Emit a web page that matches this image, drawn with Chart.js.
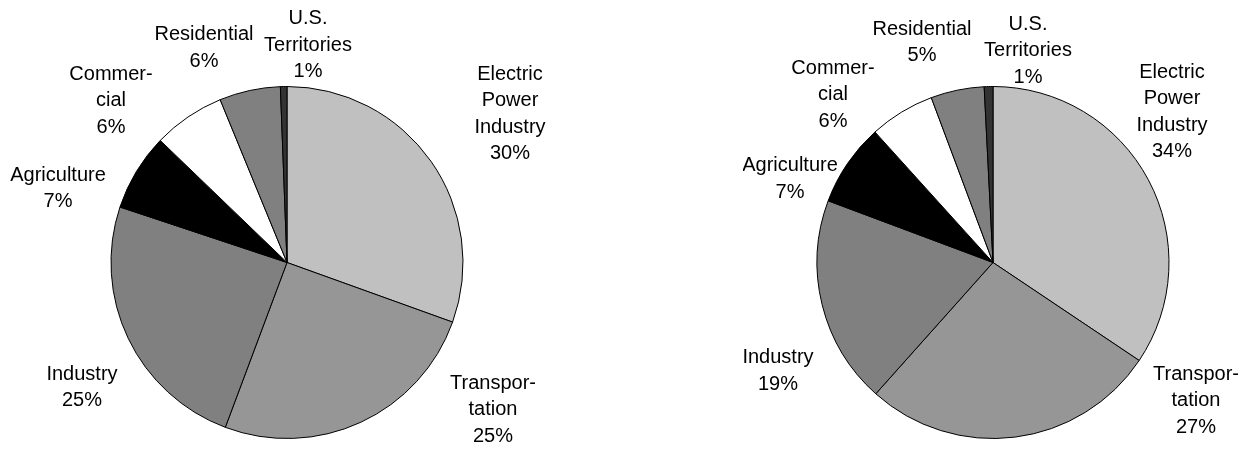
<!DOCTYPE html>
<html>
<head>
<meta charset="utf-8">
<script src="https://cdn.jsdelivr.net/npm/chart.js@4"></script>
<style>
  html, body { margin: 0; padding: 0; background: #fff; width: 1252px; height: 451px; overflow: hidden; }
  .box { position: absolute; top: 0; height: 451px; }
  #leftBox { left: 0; width: 574px; }
  #rightBox { left: 743px; width: 500px; }
</style>
</head>
<body>
<div class="box" id="leftBox"><canvas id="left"></canvas></div>
<div class="box" id="rightBox"><canvas id="right"></canvas></div>
<script>
// ---- data ----
const categories = ["Electric Power Industry", "Transportation", "Industry", "Agriculture", "Commercial", "Residential", "U.S. Territories"];
const categoryLines = [["Electric", "Power", "Industry"], ["Transpor-", "tation"], ["Industry"], ["Agriculture"], ["Commer-", "cial"], ["Residential"], ["U.S.", "Territories"]];
const leftValues = [30.5, 25.2, 24.4, 7.1, 6.6, 5.6, 0.6];
const rightValues = [34.4, 27.2, 19.1, 7.6, 6.0, 4.9, 0.8];
const leftPercentLabels = ["30%", "25%", "25%", "7%", "6%", "6%", "1%"];
const rightPercentLabels = ["34%", "27%", "19%", "7%", "6%", "5%", "1%"];

// ---- styling / layout ----
const sliceColors = ["#c0c0c0", "#969696", "#808080", "#000000", "#ffffff", "#808080", "#333333"];
const REF_R = 176;
// label block centres relative to pie centre (px at reference radius)
const leftLabelOffsets = [[223, -148.5], [206, 147], [-205, 125], [-229, -74], [-176, -162], [-83, -214.5], [21, -217.5]];
const rightLabelOffsets = [[179, -150.5], [203, 138], [-215, 108.5], [-203, -83.5], [-160, -168], [-71, -220], [35, -212]];
const FONT_SIZE = 20;
const LINE_H = 26.5;

const labelPlugin = {
  id: 'sliceLabels',
  afterDraw(chart, args, opts) {
    const meta = chart.getDatasetMeta(0);
    const ctx = chart.ctx;
    ctx.save();
    ctx.fillStyle = '#000';
    ctx.font = FONT_SIZE + 'px "Liberation Sans", Arial, sans-serif';
    ctx.textAlign = 'center';
    ctx.textBaseline = 'middle';
    meta.data.forEach((arc, i) => {
      const p = arc.getProps(['x', 'y', 'outerRadius'], true);
      const k = p.outerRadius / REF_R;
      const off = opts.offsets[i];
      const lines = categoryLines[i].concat([opts.percents[i]]);
      const cx = p.x + off[0] * k;
      const cy = p.y + off[1] * k;
      const top = cy - (lines.length - 1) * LINE_H / 2;
      lines.forEach((t, j) => ctx.fillText(t, cx, top + j * LINE_H));
    });
    ctx.restore();
  }
};

function makePie(id, values, percents, offsets) {
  return new Chart(document.getElementById(id), {
    type: 'pie',
    data: {
      labels: categories,
      datasets: [{
        data: values,
        backgroundColor: sliceColors,
        borderColor: '#000',
        borderWidth: 1
      }]
    },
    options: {
      responsive: true,
      maintainAspectRatio: false,
      animation: false,
      layout: { padding: { top: 86, bottom: 12, left: 0, right: 0 } },
      plugins: {
        legend: { display: false },
        tooltip: { enabled: false },
        sliceLabels: { offsets: offsets, percents: percents }
      }
    },
    plugins: [labelPlugin]
  });
}

makePie('left', leftValues, leftPercentLabels, leftLabelOffsets);
makePie('right', rightValues, rightPercentLabels, rightLabelOffsets);
</script>
</body>
</html>
